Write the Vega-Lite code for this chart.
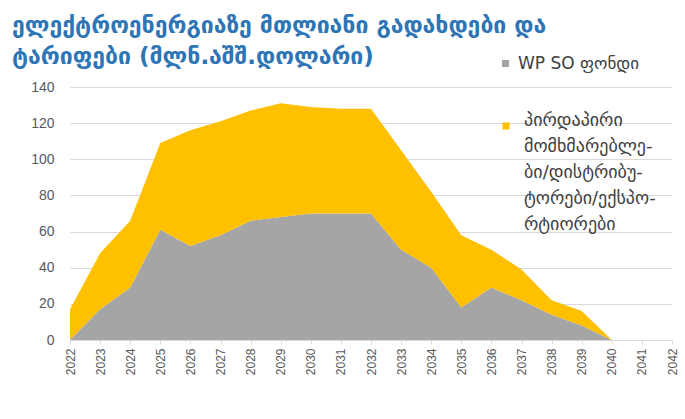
{
  "$schema": "https://vega.github.io/schema/vega-lite/v6.json",
  "width": 602,
  "height": 253,
  "autosize": {"type": "none"},
  "padding": {"left": 70, "top": 87, "right": 13, "bottom": 79},
  "background": "#ffffff",
  "title": {
    "text": ["ელექტროენერგიაზე მთლიანი გადახდები და", "ტარიფები (მლნ.აშშ.დოლარი)"],
    "anchor": "start",
    "frame": "group",
    "dx": -58,
    "dy": 36,
    "offset": 22,
    "fontSize": 23,
    "lineHeight": 31,
    "font": "DejaVu Sans",
    "fontWeight": "bold",
    "color": "#2E75B6"
  },
  "data": {
    "values": [
      {"year": "2022", "series": "WP SO ფონდი", "value": 0},
      {"year": "2022", "series": "პირდაპირი", "value": 17},
      {"year": "2023", "series": "WP SO ფონდი", "value": 17},
      {"year": "2023", "series": "პირდაპირი", "value": 31},
      {"year": "2024", "series": "WP SO ფონდი", "value": 29},
      {"year": "2024", "series": "პირდაპირი", "value": 37},
      {"year": "2025", "series": "WP SO ფონდი", "value": 61},
      {"year": "2025", "series": "პირდაპირი", "value": 48},
      {"year": "2026", "series": "WP SO ფონდი", "value": 52},
      {"year": "2026", "series": "პირდაპირი", "value": 64},
      {"year": "2027", "series": "WP SO ფონდი", "value": 58},
      {"year": "2027", "series": "პირდაპირი", "value": 63},
      {"year": "2028", "series": "WP SO ფონდი", "value": 66},
      {"year": "2028", "series": "პირდაპირი", "value": 61},
      {"year": "2029", "series": "WP SO ფონდი", "value": 68},
      {"year": "2029", "series": "პირდაპირი", "value": 63},
      {"year": "2030", "series": "WP SO ფონდი", "value": 70},
      {"year": "2030", "series": "პირდაპირი", "value": 59},
      {"year": "2031", "series": "WP SO ფონდი", "value": 70},
      {"year": "2031", "series": "პირდაპირი", "value": 58},
      {"year": "2032", "series": "WP SO ფონდი", "value": 70},
      {"year": "2032", "series": "პირდაპირი", "value": 58},
      {"year": "2033", "series": "WP SO ფონდი", "value": 50},
      {"year": "2033", "series": "პირდაპირი", "value": 55},
      {"year": "2034", "series": "WP SO ფონდი", "value": 40},
      {"year": "2034", "series": "პირდაპირი", "value": 42},
      {"year": "2035", "series": "WP SO ფონდი", "value": 18},
      {"year": "2035", "series": "პირდაპირი", "value": 40},
      {"year": "2036", "series": "WP SO ფონდი", "value": 29},
      {"year": "2036", "series": "პირდაპირი", "value": 21},
      {"year": "2037", "series": "WP SO ფონდი", "value": 22},
      {"year": "2037", "series": "პირდაპირი", "value": 17},
      {"year": "2038", "series": "WP SO ფონდი", "value": 14},
      {"year": "2038", "series": "პირდაპირი", "value": 8},
      {"year": "2039", "series": "WP SO ფონდი", "value": 8},
      {"year": "2039", "series": "პირდაპირი", "value": 8},
      {"year": "2040", "series": "WP SO ფონდი", "value": 0},
      {"year": "2040", "series": "პირდაპირი", "value": 0}
    ]
  },
  "transform": [
    {"stack": "value", "groupby": ["year"], "sort": [{"field": "series", "order": "ascending"}], "as": ["v0", "v1"]}
  ],
  "encoding": {
    "x": {
      "field": "year",
      "type": "ordinal",
      "scale": {"type": "point", "padding": 0, "domain": ["2022","2023","2024","2025","2026","2027","2028","2029","2030","2031","2032","2033","2034","2035","2036","2037","2038","2039","2040","2041","2042"]},
      "axis": {
        "title": null,
        "labelAngle": -90,
        "labelFontSize": 12,
        "labelFont": "Liberation Sans",
        "labelColor": "#595959",
        "labelPadding": 4,
        "tickColor": "#D9D9D9",
        "tickSize": 4,
        "domainColor": "#D9D9D9",
        "grid": false
      }
    },
    "y": {
      "field": "v1",
      "type": "quantitative",
      "scale": {"domain": [0, 140], "nice": false},
      "axis": {
        "title": null,
        "values": [0, 20, 40, 60, 80, 100, 120, 140],
        "labelFontSize": 14,
        "labelFont": "Liberation Sans",
        "labelColor": "#595959",
        "labelPadding": 16,
        "ticks": false,
        "domain": false,
        "gridColor": "#D9D9D9"
      }
    },
    "y2": {"field": "v0"}
  },
  "layer": [
    {
      "transform": [{"filter": "datum.series === 'WP SO ფონდი'"}],
      "mark": {"type": "area", "opacity": 1},
      "encoding": {
        "color": {
          "field": "series",
          "type": "nominal",
          "scale": {"range": ["#A5A5A5"]},
          "legend": {
            "title": null,
            "orient": "none",
            "legendX": 427,
            "legendY": -32,
            "symbolType": "square",
            "symbolSize": 50,
            "symbolOpacity": 1,
            "labelFontSize": 17,
            "labelFont": "DejaVu Sans",
            "labelColor": "#404040",
            "labelLimit": 300
          }
        }
      }
    },
    {
      "transform": [{"filter": "datum.series === 'პირდაპირი'"}],
      "mark": {"type": "area", "opacity": 1},
      "encoding": {
        "color": {
          "field": "series",
          "type": "nominal",
          "scale": {"range": ["#FFC000"]},
          "legend": {
            "title": null,
            "orient": "none",
            "legendX": 427,
            "legendY": 30,
            "symbolType": "square",
            "symbolSize": 50,
            "symbolOpacity": 1,
            "labelFontSize": 18,
            "labelFont": "DejaVu Sans",
            "labelColor": "#404040",
            "labelLimit": 300,
            "labelBaseline": "alphabetic",
            "labelOffset": 9,
            "labelExpr": "['პირდაპირი', 'მომხმარებლე-', 'ბი/დისტრიბუ-', 'ტორები/ექსპო-', 'რტიორები']"
          }
        }
      }
    }
  ],
  "resolve": {"scale": {"color": "independent"}},
  "config": {
    "view": {"stroke": null},
    "style": {"guide-label": {"lineHeight": 26}}
  }
}
